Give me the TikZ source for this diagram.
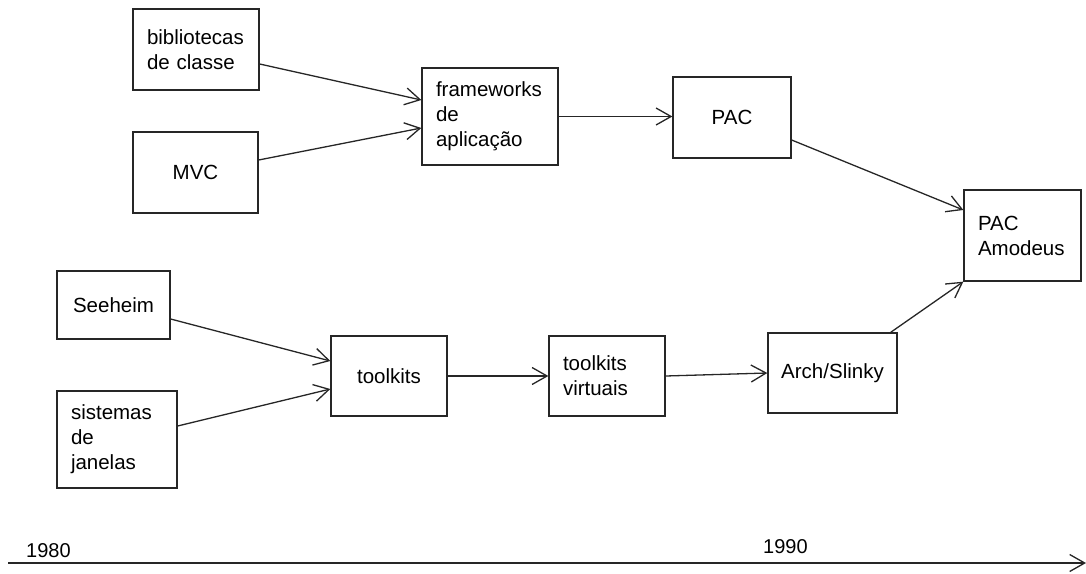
\documentclass[tikz,border=0pt]{standalone}
\usepackage{fontspec}
\setmainfont{Liberation Sans}
\usetikzlibrary{arrows.meta,calc}
\begin{document}
\begin{tikzpicture}[x=1pt,y=-1pt,
  box/.style={draw=black!85,line width=1.3pt,inner sep=0pt,
    font=\fontsize{20.5}{25}\selectfont},
  multi/.style={align=left,text width=#1},
  link/.style={draw=black!85,line width=1.3pt,
    -{Straight Barb[length=15pt,width=17pt,line width=1.3pt]}},
  year/.style={anchor=base west,inner sep=0pt,font=\fontsize{20}{24}\selectfont}]
\useasboundingbox (0,0) rectangle (1086,573);

% boxes
\node[box,minimum width=126pt,minimum height=81pt,multi=98pt] (bib) at (196,49.5) {bibliotecas\\de classe};
\node[box,minimum width=125pt,minimum height=81pt] (mvc) at (195.5,172.5) {MVC};
\node[box,minimum width=136pt,minimum height=97pt,multi=108pt] (fw) at (490,116.5) {frameworks\\de\\aplicação};
\node[box,minimum width=118pt,minimum height=81pt] (pac) at (732,117.5) {PAC};
\node[box,minimum width=117pt,minimum height=91pt,multi=89pt] (amo) at (1022.5,235.5) {PAC\\Amodeus};
\node[box,minimum width=113pt,minimum height=68pt] (see) at (113.5,305) {Seeheim};
\node[box,minimum width=120pt,minimum height=97pt,multi=92pt] (sis) at (117,439.5) {sistemas\\de\\janelas};
\node[box,minimum width=116pt,minimum height=80pt] (tk) at (389,376) {toolkits};
\node[box,minimum width=116pt,minimum height=80pt,multi=88pt] (tkv) at (607,376) {toolkits\\virtuais};
\node[box,minimum width=129pt,minimum height=80pt] (arch) at (832.5,373) {Arch/Slinky};

% connectors
\draw[link] ([yshift=-14.5pt]bib.east) -- ([yshift=16.5pt]fw.west);
\draw[link] ([yshift=12.5pt]mvc.east) -- ([yshift=-11.5pt]fw.west);
\draw[link] (fw.east) -- (fw.east -| pac.west);
\draw[link] ([yshift=-22.5pt]pac.east) -- ([yshift=25.5pt]amo.west);
\draw[link] ([yshift=-14pt]see.east) -- ([yshift=15pt]tk.west);
\draw[link] ([yshift=13.5pt]sis.east) -- ([yshift=-13pt]tk.west);
\draw[link] (tk.east) -- (tkv.west);
\draw[link] (tkv.east) -- (arch.west);
\draw[link] ([xshift=-7pt]arch.north east) -- (amo.south west);

% time axis
\coordinate (t0) at (8,563);
\coordinate (t1) at (1086,563);
\draw[link] (t0) -- (t1);
\node[year] (y80) at (26,557) {1980};
\node[year] (y90) at (763,553) {1990};
\end{tikzpicture}
\end{document}
